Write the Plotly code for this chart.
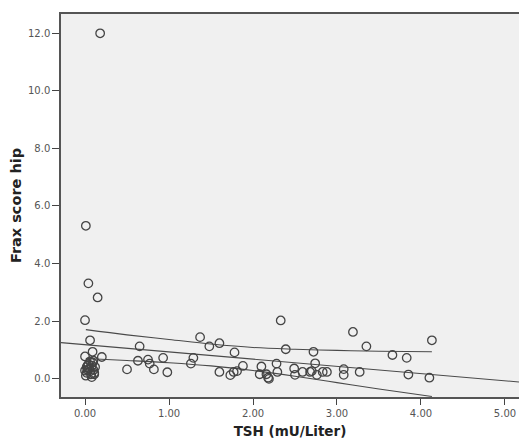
import plotly.graph_objects as go

# Scatter data: TSH (mU/Liter) vs Frax score hip
tsh = [0.18, 0.01, 0.04, 0.15, 0.00, 0.06, 0.09, 0.00, 0.20,
       0.01, 0.02, 0.03, 0.05, 0.06, 0.08, 0.09, 0.10, 0.11, 0.07, 0.04, 0.10,
       0.12, 0.02, 0.06, 0.00, 0.11, 0.08, 0.03,
       0.50, 0.65, 0.63, 0.75, 0.77, 0.82, 0.93, 0.98,
       1.26, 1.29, 1.37, 1.48, 1.60, 1.60, 1.78, 1.73, 1.77, 1.81, 1.88,
       2.08, 2.10, 2.16, 2.18, 2.19, 2.28, 2.29, 2.33, 2.39, 2.49, 2.50,
       2.59, 2.68, 2.70, 2.72, 2.74, 2.76, 2.83, 2.88,
       3.08, 3.08, 3.19, 3.27, 3.35, 3.66, 3.83, 3.85, 4.10, 4.13]
frax = [12.0, 5.31, 3.31, 2.82, 2.03, 1.33, 0.93, 0.77, 0.75,
        0.10, 0.20, 0.30, 0.35, 0.25, 0.45, 0.55, 0.30, 0.20, 0.15, 0.50, 0.62,
        0.40, 0.40, 0.60, 0.28, 0.15, 0.05, 0.45,
        0.32, 1.12, 0.62, 0.66, 0.52, 0.32, 0.72, 0.22,
        0.52, 0.72, 1.44, 1.12, 1.23, 0.23, 0.91, 0.12, 0.23, 0.26, 0.44,
        0.15, 0.42, 0.15, 0.03, -0.01, 0.52, 0.23, 2.02, 1.02, 0.35, 0.13,
        0.23, 0.23, 0.26, 0.93, 0.53, 0.13, 0.23, 0.23,
        0.33, 0.13, 1.62, 0.23, 1.12, 0.82, 0.72, 0.14, 0.03, 1.33]

# Linear fit
fit_intercept = 1.178
fit_slope = -0.251

# 95% confidence band of the mean, read at sample TSH values
ci_x = [0.01, 0.5, 1.0, 1.5, 2.0, 2.5, 3.0, 3.5, 4.13]
ci_upper = [1.70, 1.52, 1.36, 1.20, 1.08, 1.02, 0.98, 0.95, 0.93]
ci_lower = [0.70, 0.63, 0.55, 0.44, 0.28, 0.08, -0.14, -0.36, -0.62]

x_range = [-0.286, 5.167]
y_range = [-0.64, 12.67]

x_ticks = [0, 1, 2, 3, 4, 5]
x_tick_text = ["0.00", "1.00", "2.00", "3.00", "4.00", "5.00"]
y_ticks = [0, 2, 4, 6, 8, 10, 12]
y_tick_text = ["0.0", "2.0", "4.0", "6.0", "8.0", "10.0", "12.0"]

line_col = "#4a4a4a"

fig = go.Figure()
fit_x = x_range
fit_y = [fit_intercept + fit_slope * v for v in fit_x]
fig.add_trace(go.Scatter(x=fit_x, y=fit_y, mode="lines",
                         line=dict(color=line_col, width=1.1), hoverinfo="skip"))
fig.add_trace(go.Scatter(x=ci_x, y=ci_upper, mode="lines", line_shape="spline",
                         line=dict(color=line_col, width=1.1), hoverinfo="skip"))
fig.add_trace(go.Scatter(x=ci_x, y=ci_lower, mode="lines", line_shape="spline",
                         line=dict(color=line_col, width=1.1), hoverinfo="skip"))
fig.add_trace(go.Scatter(x=tsh, y=frax, mode="markers",
                         marker=dict(symbol="circle-open", size=8.5,
                                     color="#444", line=dict(width=1.3))))

font_fam = "DejaVu Sans, Liberation Sans, sans-serif"
fig.update_layout(
    width=519, height=442,
    margin=dict(l=61, r=0, t=14, b=45),
    paper_bgcolor="white", plot_bgcolor="#f0f0f0",
    showlegend=False,
    font=dict(family=font_fam, size=10, color="#555"),
)
fig.update_xaxes(
    range=x_range, tickvals=x_ticks, ticktext=x_tick_text,
    showgrid=False, zeroline=False,
    showline=True, linecolor="#555", linewidth=1.5, mirror=True,
    ticks="outside", ticklen=6, tickcolor="#444", tickwidth=1,
    tickfont=dict(size=10, color="#555"),
    title=dict(text="<b>TSH (mU/Liter)</b>", font=dict(size=13.5, color="#222"), standoff=9),
)
fig.update_yaxes(
    range=y_range, tickvals=y_ticks, ticktext=y_tick_text,
    showgrid=False, zeroline=False,
    showline=True, linecolor="#555", linewidth=1.5,
    ticks="outside", ticklen=7, tickcolor="#444", tickwidth=1,
    tickfont=dict(size=10, color="#555"),
    title=dict(text="<b>Frax score hip</b>", font=dict(size=14.5, color="#222"), standoff=3),
)

fig.write_html(
    "out.html",
    config={"displayModeBar": False},
    post_script="document.body.style.margin='0';document.body.style.overflow='hidden';",
)
